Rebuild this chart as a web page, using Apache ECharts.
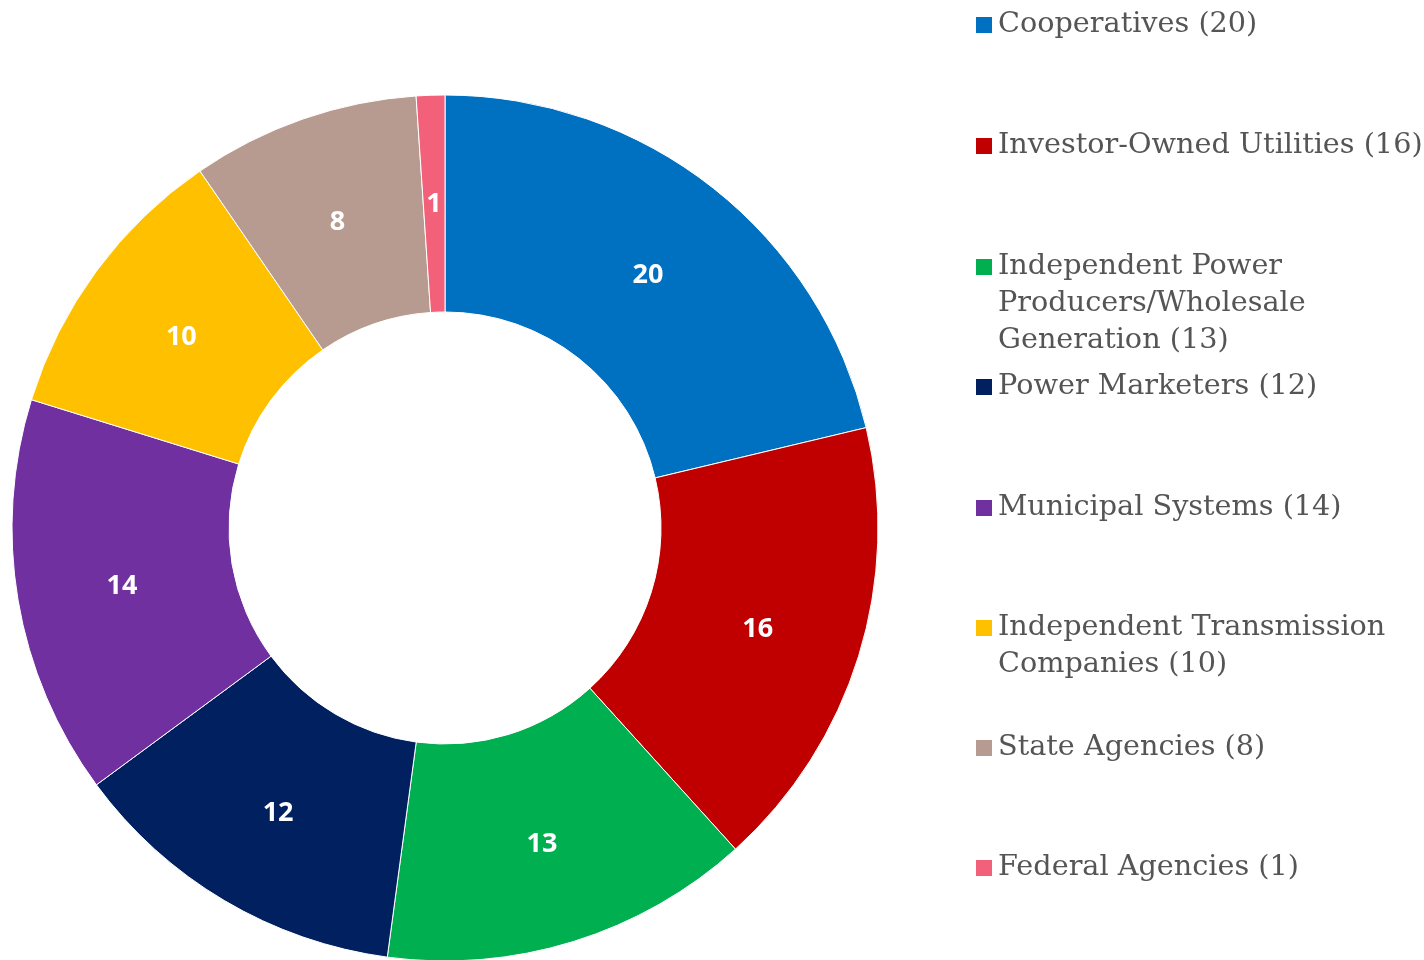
<!DOCTYPE html>
<html>
<head>
<meta charset="utf-8">
<script src="https://cdn.jsdelivr.net/npm/echarts@6/dist/echarts.min.js"></script>
<style>html,body{margin:0;padding:0;background:#fff}#c{width:1424px;height:960px}</style>
</head>
<body>
<div id="c"></div>
<script>
const categories = ['Cooperatives', 'Investor-Owned Utilities', 'Independent Power Producers/Wholesale Generation', 'Power Marketers', 'Municipal Systems', 'Independent Transmission Companies', 'State Agencies', 'Federal Agencies'];
const values = [20, 16, 13, 12, 14, 10, 8, 1];
const colors = ['#0070C0', '#C00000', '#00B050', '#002060', '#7030A0', '#FFC000', '#B79B90', '#F2607A'];
const legendLines = [
  ['Cooperatives (20)'],
  ['Investor-Owned Utilities (16)'],
  ['Independent Power', 'Producers/Wholesale', 'Generation (13)'],
  ['Power Marketers (12)'],
  ['Municipal Systems (14)'],
  ['Independent Transmission', 'Companies (10)'],
  ['State Agencies (8)'],
  ['Federal Agencies (1)']
];
const legendCenters = [22, 143, 264, 384, 505, 625, 745, 865];

const LH = 37;
const chart = echarts.init(document.getElementById('c'));
const legends = categories.map((name, i) => {
  const n = legendLines[i].length;
  // prepend empty lines so the first real line sits level with the icon
  const txt = new Array(n - 1).fill('').concat(legendLines[i]).join('\n');
  return {
    orient: 'vertical',
    left: 974,
    top: legendCenters[i] - (n - 0.5) * LH + 3,
    padding: 0,
    itemWidth: 18,
    itemHeight: 18,
    icon: 'rect',
    selectedMode: false,
    data: [name],
    formatter: () => txt,
    textStyle: {
      fontFamily: 'DejaVu Serif',
      fontSize: 28.7,
      color: '#555555',
      lineHeight: LH
    }
  };
});

chart.setOption({
  animation: false,
  color: colors,
  legend: legends,
  series: [{
    type: 'pie',
    center: [445, 528],
    radius: [216, 433],
    startAngle: 90,
    clockwise: true,
    avoidLabelOverlap: false,
    itemStyle: { borderColor: '#fff', borderWidth: 1 },
    label: {
      show: true,
      position: 'inside',
      formatter: '{c}',
      color: '#fff',
      fontFamily: 'Open Sans',
      fontWeight: 'bold',
      fontSize: 27,
      offset: [0, 4]
    },
    labelLine: { show: false },
    emphasis: { disabled: true },
    data: categories.map((n, i) => ({ name: n, value: values[i] }))
  }]
});
</script>
</body>
</html>
